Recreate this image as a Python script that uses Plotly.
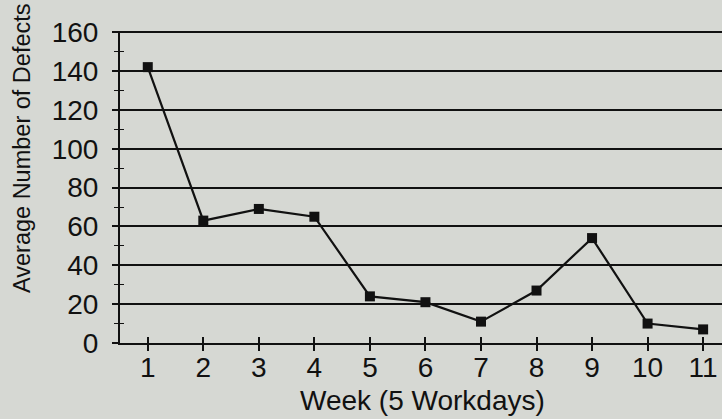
import plotly.graph_objects as go

weeks = [1, 2, 3, 4, 5, 6, 7, 8, 9, 10, 11]
defects = [142, 63, 69, 65, 24, 21, 11, 27, 54, 10, 7]
y_ticks = [0, 20, 40, 60, 80, 100, 120, 140, 160]

BG = "#d6d8d3"
INK = "#111111"
FAM = "Liberation Sans, Arial, sans-serif"
TICKFONT = dict(family=FAM, size=28, color=INK)
XTITLEFONT = dict(family=FAM, size=28, color=INK)
YTITLEFONT = dict(family=FAM, size=23.5, color=INK)

W, H = 722, 419
ML, MR, MT, MB = 120, 0, 31, 76
XR = [0.5, 11.34]
YR = [0, 160.6]
PW, PH = W - ML - MR, H - MT - MB


def px_x(p):
    return (p - ML) / PW


def px_y(p):
    return 1 - (p - MT) / PH


fig = go.Figure()
fig.add_trace(go.Scatter(
    x=weeks, y=defects, mode="lines+markers",
    line=dict(color=INK, width=2.2),
    marker=dict(symbol="square", size=10, color=INK),
    showlegend=False, hoverinfo="skip"))
fig.add_trace(go.Scatter(x=[weeks[0]], y=[defects[0]], xaxis="x2", yaxis="y2",
                         mode="markers", marker=dict(opacity=0), showlegend=False,
                         hoverinfo="skip"))

fig.update_layout(
    width=W, height=H,
    paper_bgcolor=BG, plot_bgcolor=BG,
    margin=dict(l=ML, r=MR, t=MT, b=MB, pad=0),
    font=TICKFONT,
    xaxis=dict(range=XR, tickvals=weeks, ticktext=[str(w) for w in weeks],
               showgrid=False, zeroline=False, showline=True, linecolor=INK,
               linewidth=2, ticks="outside", ticklen=6, tickwidth=1.5, tickcolor=INK,
               ticklabelstandoff=-8, tickfont=TICKFONT),
    yaxis=dict(range=YR, tickvals=y_ticks, showgrid=True, gridcolor=INK,
               gridwidth=1.8, zeroline=False, showline=True, linecolor=INK,
               linewidth=2, ticks="outside", ticklen=6, tickwidth=1.5, tickcolor=INK,
               ticklabelstandoff=8,
               minor=dict(dtick=10, ticks="outside", ticklen=4, tickcolor=INK,
                          tickwidth=1.2, showgrid=False),
               tickfont=TICKFONT),
    xaxis2=dict(overlaying="x", range=XR, tickvals=weeks, showticklabels=False,
                showgrid=False, zeroline=False, ticks="inside", ticklen=6, tickwidth=1.5,
                tickcolor=INK, side="bottom"),
    yaxis2=dict(overlaying="y", range=YR, dtick=10, tick0=0, showticklabels=False,
                showgrid=False, zeroline=False, ticks="inside", ticklen=4, tickwidth=1.2,
                tickcolor=INK, side="left"),
    annotations=[
        dict(text="Average Number of Defects", textangle=-90, showarrow=False,
             xref="paper", yref="paper", x=px_x(22), y=px_y(148),
             xanchor="center", yanchor="middle", font=YTITLEFONT),
        dict(text="Week (5 Workdays)", showarrow=False,
             xref="paper", yref="paper", x=px_x(422), y=px_y(400),
             xanchor="center", yanchor="middle", font=XTITLEFONT),
    ],
)

fig.write_html(
    "out.html",
    config={"displayModeBar": False},
    post_script=("document.body.style.margin='0';"
                 "document.body.style.background='" + BG + "';"
                 "document.documentElement.style.background='" + BG + "';"),
)
